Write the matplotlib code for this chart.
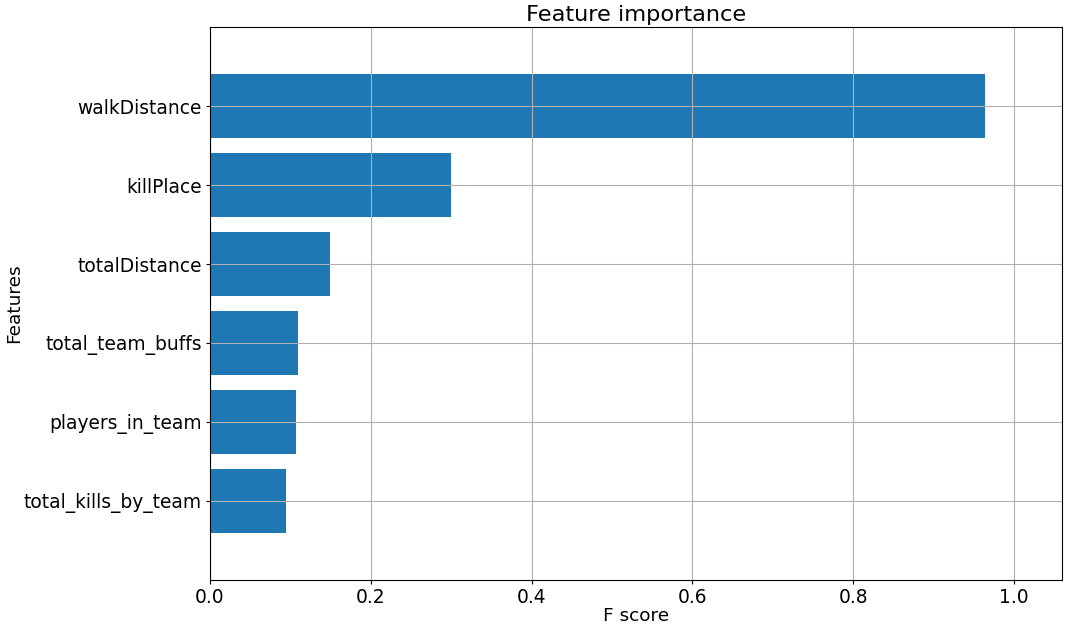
import matplotlib
matplotlib.use("Agg")
import matplotlib.pyplot as plt

# feature importance values, bottom to top as drawn
features = [
    "total_kills_by_team",
    "players_in_team",
    "total_team_buffs",
    "totalDistance",
    "killPlace",
    "walkDistance",
]
scores = [0.095, 0.1066, 0.110, 0.1498, 0.2996, 0.9635]


def main() -> None:
    plt.rcParams["font.family"] = ["DejaVu Sans"]
    fig = plt.figure(figsize=(10.76, 6.29), dpi=100)
    ax = fig.add_axes([0.1952, 0.0780, 0.7918, 0.8790])

    ylocs = list(range(len(features)))
    ax.barh(ylocs, scores, align="center", height=0.8)
    ax.set_yticks(ylocs)
    ax.set_yticklabels(features)

    ax.set_xlim(0, max(scores) * 1.1)
    ax.set_ylim(-1, len(features))
    ax.grid(True)

    ax.set_title("Feature importance", fontsize=16.2, pad=4)
    ax.set_xlabel("F score", fontsize=13.3, labelpad=0)
    ax.set_ylabel("Features", fontsize=13.3)
    ax.yaxis.set_label_coords(-0.2195, 0.5)
    ax.tick_params(labelsize=13.4, length=2.8, pad=3)

    fig.savefig("out.png", dpi=100)
    plt.close(fig)


if __name__ == "__main__":
    main()
